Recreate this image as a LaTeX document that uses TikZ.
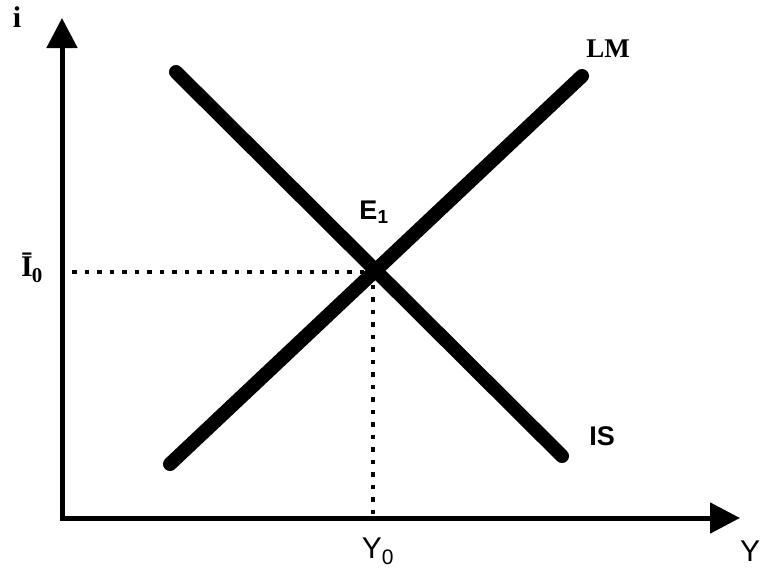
\documentclass[tikz,border=0pt]{standalone}
\usepackage{fontspec}
\setmainfont{Liberation Serif}
\setsansfont{Liberation Sans}
\usetikzlibrary{arrows.meta}
\begin{document}
\begin{tikzpicture}[x=1pt,y=-1pt,
  axis/.style={line width=5pt,-{Triangle[length=30pt,width=30pt]}},
  curve/.style={line width=14pt,line cap=round},
  guide/.style={line width=4pt,dash pattern=on 4.5pt off 8pt},
  lbl/.style={inner sep=0pt,font=\sffamily\bfseries\fontsize{27}{28}\selectfont},
  lblserif/.style={inner sep=0pt,font=\rmfamily\bfseries\fontsize{27}{28}\selectfont},
  smallserif/.style={inner sep=0pt,font=\rmfamily\bfseries\fontsize{30}{31}\selectfont},
  axlbl/.style={inner sep=0pt,font=\sffamily\fontsize{30}{31}\selectfont}]
\useasboundingbox (0,0) rectangle (761,576);
\coordinate (O) at (62,518);
\coordinate (ytop) at (62,18);
\coordinate (xend) at (740,518);
\draw[axis] (O) -- (ytop);
\draw[axis] ([xshift=-2.5pt]O) -- (xend);
\coordinate (is1) at (176,72);
\coordinate (is2) at (562,456);
\coordinate (lm1) at (170,464);
\coordinate (lm2) at (582,76);
\draw[curve] (is1) -- (is2);
\draw[curve] (lm1) -- (lm2);
\coordinate (E) at (373,272);
\coordinate (ileft) at (72,272);
\coordinate (ybot) at (373,516);
\draw[guide] (ileft) -- (E);
\draw[guide] (E) -- (ybot);
\node[smallserif] (ilab) at (17,17) {i};
\node[smallserif] (i0) at (32,268) {Ī\kern-1pt\textsubscript{0}};
\node[lbl] (Elab) at (374,212) {E\textsubscript{1}};
\node[lblserif] (LMlab) at (608,49) {LM};
\node[lbl] (ISlab) at (602,436) {IS};
\node[axlbl] (Y0) at (378,551) {Y\textsubscript{0}};
\node[axlbl] (Ylab) at (750,551) {Y};
\end{tikzpicture}
\end{document}
